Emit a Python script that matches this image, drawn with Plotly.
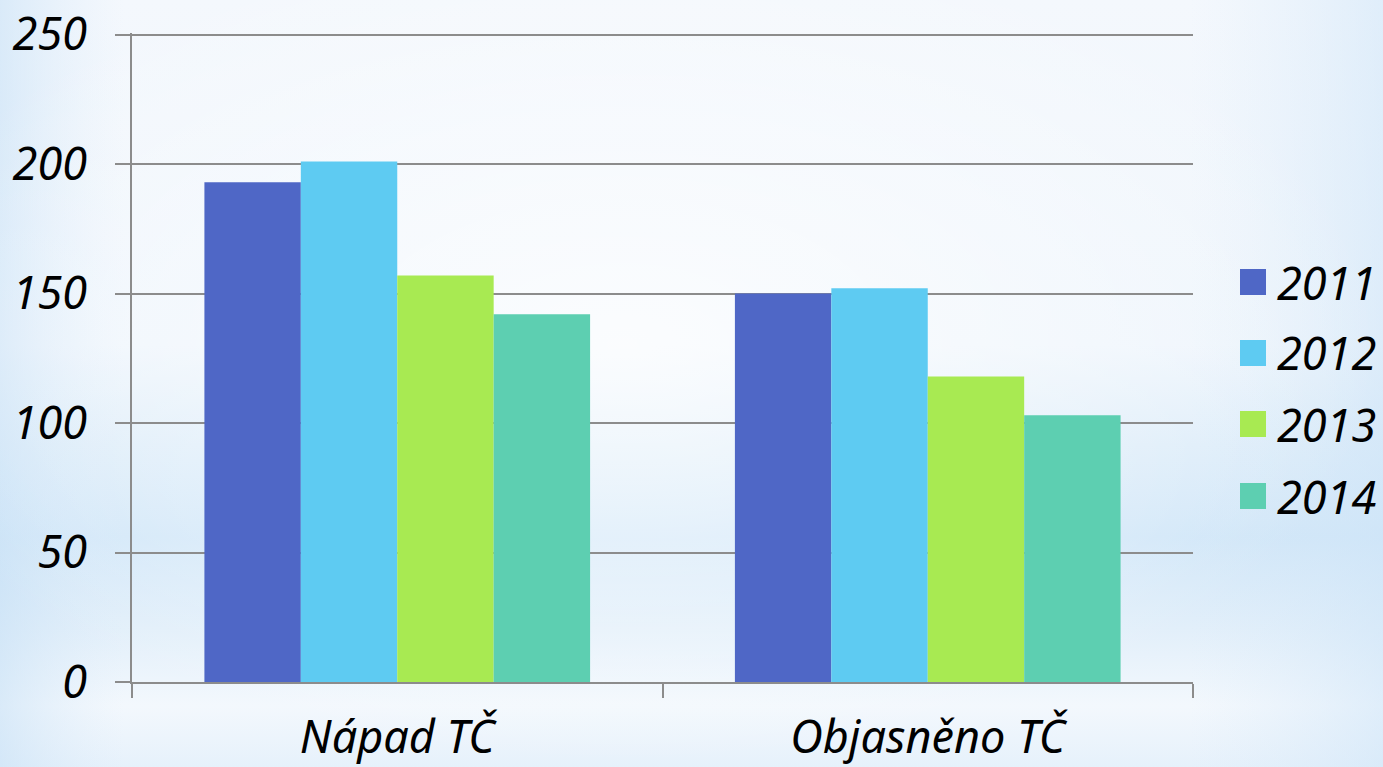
import base64
import plotly.graph_objects as go

categories = ["Nápad TČ", "Objasněno TČ"]
years = ["2011", "2012", "2013", "2014"]
v2011 = [193, 150]
v2012 = [201, 152]
v2013 = [157, 118]
v2014 = [142, 103]
series = [v2011, v2012, v2013, v2014]
colors = ["#4F67C6", "#5ECBF2", "#A8EA52", "#5DCFB1"]
y_ticks = [0, 50, 100, 150, 200, 250]

W, H = 1383, 767
L, R, T, B = 132, 190, 33, 85
PW, PH = W - L - R, H - T - B

FONT = "Noto Sans, Open Sans, DejaVu Sans, sans-serif"
FS = 45

svg = f'''<svg xmlns="http://www.w3.org/2000/svg" width="{W}" height="{H}" viewBox="0 0 {W} {H}" preserveAspectRatio="none">
<defs>
<linearGradient id="v" x1="0" y1="0" x2="0" y2="1">
<stop offset="0" stop-color="#F4F8FD"/>
<stop offset="0.45" stop-color="#EEF5FC"/>
<stop offset="0.58" stop-color="#DCECF9"/>
<stop offset="0.70" stop-color="#D0E6F8"/>
<stop offset="0.82" stop-color="#E2EFFA"/>
<stop offset="0.92" stop-color="#F3F8FD"/>
<stop offset="1" stop-color="#E6F1FB"/>
</linearGradient>
<linearGradient id="h" x1="0" y1="0" x2="1" y2="0">
<stop offset="0" stop-color="#C8E1F6" stop-opacity="0.6"/>
<stop offset="0.09" stop-color="#DCEBF9" stop-opacity="0.0"/>
<stop offset="0.86" stop-color="#DCEBF9" stop-opacity="0.0"/>
<stop offset="1" stop-color="#CFE5F8" stop-opacity="0.55"/>
</linearGradient>
<radialGradient id="c" cx="0.45" cy="0.45" r="0.55">
<stop offset="0" stop-color="#FFFFFF" stop-opacity="0.75"/>
<stop offset="0.7" stop-color="#FFFFFF" stop-opacity="0.25"/>
<stop offset="1" stop-color="#FFFFFF" stop-opacity="0"/>
</radialGradient>
</defs>
<rect width="{W}" height="{H}" fill="url(#v)"/>
<rect width="{W}" height="{H}" fill="url(#h)"/>
<rect width="{W}" height="{H}" fill="url(#c)"/>
</svg>'''
bg_uri = "data:image/svg+xml;base64," + base64.b64encode(svg.encode()).decode()

fig = go.Figure()
for name, vals, col in zip(years, series, colors):
    fig.add_trace(go.Bar(x=categories, y=vals, name=name, marker=dict(color=col, line=dict(width=0)),
                         showlegend=False))

grey = "#8C8C8C"
fig.update_layout(
    width=W, height=H,
    margin=dict(l=L, r=R, t=T, b=B, pad=0, autoexpand=False),
    paper_bgcolor="rgba(0,0,0,0)",
    plot_bgcolor="rgba(0,0,0,0)",
    barmode="group", bargap=0.273, bargroupgap=0,
    showlegend=False,
    font=dict(family=FONT, color="black"),
    xaxis=dict(
        automargin=False,
        showline=True, linecolor=grey, linewidth=2,
        ticks="outside", tickson="boundaries", ticklen=14, tickwidth=2, tickcolor=grey,
        showgrid=False,
        tickfont=dict(size=FS, style="italic", family=FONT),
        ticklabelstandoff=15,
    ),
    yaxis=dict(
        automargin=False,
        range=[0, 250.6], tickvals=y_ticks,
        showline=True, linecolor=grey, linewidth=2,
        ticks="outside", ticklen=15, tickwidth=2, tickcolor=grey,
        showgrid=True, gridcolor=grey, gridwidth=2, zeroline=False,
        tickfont=dict(size=FS, style="italic", family=FONT),
        ticklabelstandoff=19,
    ),
    images=[dict(source=bg_uri, xref="paper", yref="paper",
                 x=-L / PW, y=1 + T / PH, sizex=W / PW, sizey=H / PH,
                 xanchor="left", yanchor="top", sizing="stretch", layer="below")],
)

# manual legend (large swatches)
leg_y = [282, 353, 424, 496]
for name, col, py in zip(years, colors, leg_y):
    fig.add_shape(type="rect", xref="paper", yref="paper",
                  x0=(1240 - L) / PW, x1=(1266 - L) / PW,
                  y0=(H - B - (py + 13)) / PH, y1=(H - B - (py - 13)) / PH,
                  fillcolor=col, line=dict(width=0))
    fig.add_annotation(xref="paper", yref="paper", x=(1275 - L) / PW, y=(H - B - py) / PH,
                       text=name, showarrow=False, xanchor="left", yanchor="middle",
                       font=dict(size=FS, style="italic", family=FONT, color="black"))

fig.write_html("out.html", config={"displayModeBar": False},
               post_script="document.body.style.margin='0';document.body.style.overflow='hidden';")
